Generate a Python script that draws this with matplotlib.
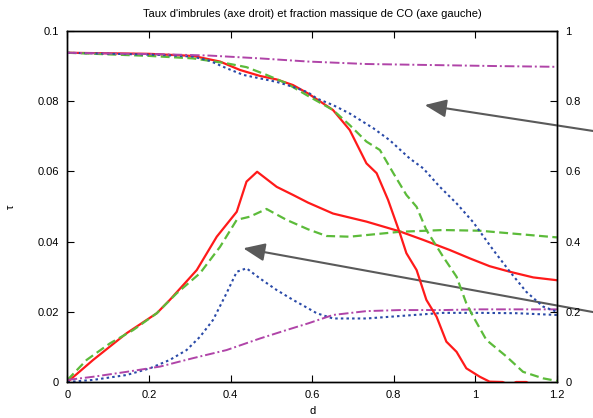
import matplotlib.pyplot as plt
import numpy as np

plt.rcParams['font.family'] = ['Liberation Sans', 'DejaVu Sans']

# CO mass fraction (left axis)
x_red_co = [0, 0.063, 0.145, 0.219, 0.251, 0.317, 0.366, 0.415, 0.439, 0.465, 0.513, 0.553, 0.59,
            0.651, 0.733, 0.815, 0.872, 0.9375, 0.987, 1.035, 1.085, 1.142, 1.2]
y_red_co = [0, 0.0063, 0.0139, 0.0196, 0.0234, 0.0319, 0.0414, 0.0485, 0.0571, 0.0599, 0.0556, 0.0533, 0.0511,
            0.048, 0.0457, 0.0429, 0.0405, 0.0376, 0.0352, 0.033, 0.0314, 0.0298, 0.029]

x_green_co = [0, 0.047, 0.104, 0.161, 0.219, 0.268, 0.325, 0.374, 0.415, 0.447, 0.488, 0.537, 0.59,
              0.635, 0.692, 0.815, 0.921, 1.011, 1.101, 1.2]
y_green_co = [0.0006, 0.0063, 0.011, 0.0148, 0.0196, 0.0253, 0.031, 0.0385, 0.0462, 0.0471, 0.0493, 0.0462, 0.0435,
              0.0416, 0.0414, 0.0428, 0.0433, 0.0431, 0.0422, 0.0412]

x_blue_co = [0, 0.063, 0.145, 0.202, 0.251, 0.292, 0.325, 0.357, 0.39, 0.415, 0.439, 0.472, 0.513, 0.553,
             0.59, 0.611, 0.651, 0.733, 0.815, 0.921, 1.011, 1.101, 1.2]
y_blue_co = [0, 0.0006, 0.002, 0.0039, 0.0063, 0.0091, 0.0129, 0.0177, 0.0253, 0.0314, 0.0324, 0.0295, 0.0262, 0.0234,
             0.021, 0.0196, 0.0181, 0.0181, 0.0188, 0.0197, 0.0197, 0.0196, 0.0191]

x_mag_co = [0, 0.063, 0.145, 0.227, 0.308, 0.39, 0.472, 0.537, 0.59, 0.651, 0.733, 0.815, 0.921, 1.011, 1.2]
y_mag_co = [0.0006, 0.0015, 0.0029, 0.0044, 0.0068, 0.0091, 0.0124, 0.0148, 0.0167, 0.0191, 0.0202, 0.0205, 0.0205,
            0.0207, 0.0207]

# taux d'imbrules (right axis)
x_red_tx = [0, 0.2, 0.308, 0.374, 0.423, 0.472, 0.513, 0.553, 0.59, 0.651, 0.692, 0.733, 0.758, 0.786,
            0.815, 0.831, 0.856, 0.88, 0.905, 0.929, 0.954, 0.978, 1.011, 1.035, 1.067, 1.085, 1.1, 1.125,
            1.14, 1.2]
y_red_tx = [0.938, 0.935, 0.929, 0.913, 0.889, 0.872, 0.862, 0.846, 0.822, 0.775, 0.718, 0.623, 0.595, 0.519,
            0.424, 0.367, 0.319, 0.234, 0.186, 0.115, 0.086, 0.039, 0.015, 0.001, 0.0, -0.01, 0.0, 0.0,
            -0.01, -0.01]

x_green_tx = [0, 0.202, 0.308, 0.39, 0.439, 0.488, 0.537, 0.59, 0.651, 0.692, 0.733, 0.766, 0.799, 0.831,
              0.856, 0.88, 0.921, 0.954, 0.978, 0.995, 1.027, 1.077, 1.117, 1.166, 1.2]
y_green_tx = [0.938, 0.929, 0.922, 0.908, 0.897, 0.875, 0.851, 0.815, 0.775, 0.732, 0.685, 0.661, 0.595, 0.533,
              0.499, 0.433, 0.357, 0.30, 0.224, 0.186, 0.12, 0.072, 0.029, 0.0105, 0.003]

x_blue_tx = [0, 0.227, 0.308, 0.349, 0.39, 0.431, 0.472, 0.513, 0.553, 0.59, 0.611, 0.651, 0.692, 0.75,
             0.79, 0.839, 0.872, 0.913, 0.954, 0.995, 1.044, 1.085, 1.125, 1.166, 1.2]
y_blue_tx = [0.938, 0.932, 0.927, 0.915, 0.894, 0.875, 0.865, 0.855, 0.841, 0.825, 0.808, 0.789, 0.765, 0.723,
             0.689, 0.637, 0.609, 0.556, 0.509, 0.455, 0.376, 0.314, 0.257, 0.215, 0.2]

x_mag_tx = [0, 0.227, 0.349, 0.472, 0.59, 0.733, 0.897, 1.06, 1.2]
y_mag_tx = [0.938, 0.934, 0.93, 0.922, 0.913, 0.906, 0.903, 0.9, 0.898]

x_ticks = [0, 0.2, 0.4, 0.6, 0.8, 1, 1.2]
x_labels = ['0', '0.2', '0.4', '0.6', '0.8', '1', '1.2']
y_ticks = [0, 0.02, 0.04, 0.06, 0.08, 0.1]
y_labels = ['0', '0.02', '0.04', '0.06', '0.08', '0.1']
y2_ticks = [0, 0.2, 0.4, 0.6, 0.8, 1]
y2_labels = ['0', '0.2', '0.4', '0.6', '0.8', '1']

red = '#ff1a1a'
green = '#5cbb3a'
blue = '#2a4aa8'
mag = '#b044a8'

fig = plt.figure(figsize=(5.93, 4.18), dpi=100)
ax = fig.add_axes([0.1138, 0.0861, 0.8253, 0.8397])
ax2 = ax.twinx()

ax.plot(x_red_co, y_red_co, color=red, lw=1.6, ls='-')
ax.plot(x_green_co, y_green_co, color=green, lw=1.6, ls=(0, (4, 2)))
ax.plot(x_blue_co, y_blue_co, color=blue, lw=1.5, ls=(0, (1.2, 1.5)))
ax.plot(x_mag_co, y_mag_co, color=mag, lw=1.4, ls=(0, (5, 1.5, 1, 1.5)))

ax2.plot(x_red_tx, y_red_tx, color=red, lw=1.6, ls='-')
ax2.plot(x_green_tx, y_green_tx, color=green, lw=1.6, ls=(0, (4, 2)))
ax2.plot(x_blue_tx, y_blue_tx, color=blue, lw=1.5, ls=(0, (1.2, 1.5)))
ax2.plot(x_mag_tx, y_mag_tx, color=mag, lw=1.4, ls=(0, (5, 1.5, 1, 1.5)))

ax.set_xlim(0, 1.2)
ax.set_ylim(0, 0.1)
ax2.set_ylim(0, 1)

ax.set_xticks(x_ticks)
ax.set_xticklabels(x_labels)
ax.set_yticks(y_ticks)
ax.set_yticklabels(y_labels)
ax2.set_yticks(y2_ticks)
ax2.set_yticklabels(y2_labels)

ax.tick_params(axis='x', direction='in', top=True, length=5, labelsize=8, pad=6)
ax.tick_params(axis='y', direction='in', length=5, labelsize=8, pad=6)
ax2.tick_params(axis='y', direction='in', length=5, labelsize=8, pad=6)
for a in (ax, ax2):
    for s in a.spines.values():
        s.set_linewidth(1.0)

ax.set_xlabel('d', fontsize=8, labelpad=4)
ax.set_ylabel('τ', fontsize=8, labelpad=16)
ax.set_title("Taux d'imbrules (axe droit) et fraction massique de CO (axe gauche)", fontsize=8, pad=10)

# arrows from the right edge
arrow = dict(arrowstyle='-|>,head_length=0.6,head_width=0.25', color='#5a5a5a', lw=1.5,
             mutation_scale=22, shrinkA=0, shrinkB=0)
ax.annotate('', xy=(0.876, 0.0789), xytext=(1.29, 0.0715), arrowprops=arrow, annotation_clip=False)
ax.annotate('', xy=(0.431, 0.0381), xytext=(1.29, 0.0199), arrowprops=arrow, annotation_clip=False)

fig.savefig('out.png', dpi=100)
